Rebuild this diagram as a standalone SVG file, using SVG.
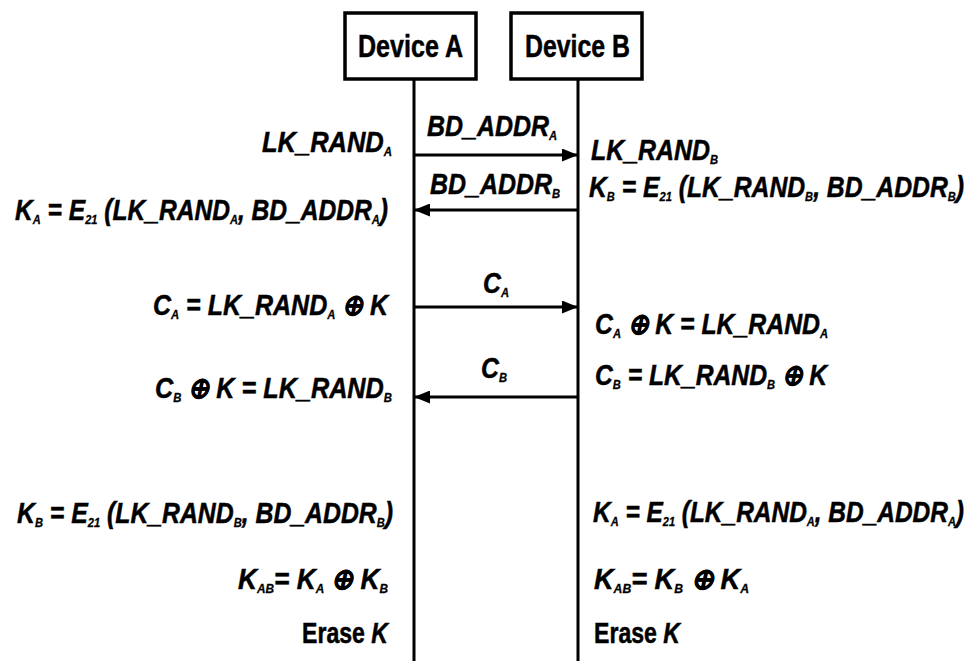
<svg xmlns="http://www.w3.org/2000/svg" width="972" height="661" viewBox="0 0 972 661">
<style>
  .box { fill: #fff; stroke: #000; stroke-width: 3.5; }
  .life { stroke: #000; stroke-width: 3; fill: none; }
  .msg { stroke: #000; stroke-width: 3; fill: none; }
  .t { font-family: "Liberation Sans", Arial, sans-serif; font-weight: bold; font-style: italic; font-size: 29px; fill: #000; stroke: #000; stroke-width: 0.5; }
  .hd { font-family: "Liberation Sans", Arial, sans-serif; font-weight: bold; font-size: 31px; fill: #000; stroke: #000; stroke-width: 0.5; }
  .up { font-style: normal; }
  .s { font-size: 13px; stroke-width: 0.3; }
</style>
<defs>
  <marker id="ah" viewBox="0 0 16 13" refX="15" refY="6.5" markerWidth="16" markerHeight="13" markerUnits="userSpaceOnUse" orient="auto">
    <path d="M0,0 L16,6.5 L0,13 z" fill="#000"/>
  </marker>
</defs>
<rect width="972" height="661" fill="#fff"/>

<g id="device-a">
  <rect class="box" x="345" y="13" width="131" height="66"/>
  <text class="hd" x="358" y="57" textLength="105" lengthAdjust="spacingAndGlyphs">Device A</text>
  <line class="life" x1="414" y1="79" x2="414" y2="661"/>
</g>
<g id="device-b">
  <rect class="box" x="511" y="13" width="131" height="66"/>
  <text class="hd" x="525" y="57" textLength="105" lengthAdjust="spacingAndGlyphs">Device B</text>
  <line class="life" x1="578" y1="79" x2="578" y2="661"/>
</g>

<g id="connectors">
  <line class="msg" x1="414" y1="155" x2="577" y2="155" marker-end="url(#ah)"/>
  <line class="msg" x1="578" y1="210" x2="415" y2="210" marker-end="url(#ah)"/>
  <line class="msg" x1="414" y1="307" x2="577" y2="307" marker-end="url(#ah)"/>
  <line class="msg" x1="578" y1="397" x2="415" y2="397" marker-end="url(#ah)"/>
</g>

<g id="message-labels">
  <text class="t" x="427" y="136" textLength="130" lengthAdjust="spacingAndGlyphs">BD_ADDR<tspan class="s" dy="4">A</tspan></text>
  <text class="t" x="430" y="194" textLength="130" lengthAdjust="spacingAndGlyphs">BD_ADDR<tspan class="s" dy="4">B</tspan></text>
  <text class="t" x="483" y="293" textLength="26" lengthAdjust="spacingAndGlyphs">C<tspan class="s" dy="4">A</tspan></text>
  <text class="t" x="481" y="378" textLength="26" lengthAdjust="spacingAndGlyphs">C<tspan class="s" dy="4">B</tspan></text>
</g>

<g id="device-a-steps">
  <text class="t" x="262" y="152" textLength="130" lengthAdjust="spacingAndGlyphs">LK_RAND<tspan class="s" dy="4">A</tspan></text>
  <text class="t" x="15" y="220" textLength="373" lengthAdjust="spacingAndGlyphs">K<tspan class="s" dy="4">A</tspan><tspan dy="-4"> = E</tspan><tspan class="s" dy="4">21</tspan><tspan dy="-4"> (LK_RAND</tspan><tspan class="s" dy="4">A</tspan><tspan dy="-4">, BD_ADDR</tspan><tspan class="s" dy="4">A</tspan><tspan dy="-4">)</tspan></text>
  <text class="t" x="153" y="315" textLength="235" lengthAdjust="spacingAndGlyphs">C<tspan class="s" dy="4">A</tspan><tspan dy="-4"> = LK_RAND</tspan><tspan class="s" dy="4">A</tspan><tspan dy="-4"> ⊕ K</tspan></text>
  <text class="t" x="155" y="398" textLength="237" lengthAdjust="spacingAndGlyphs">C<tspan class="s" dy="4">B</tspan><tspan dy="-4"> ⊕ K = LK_RAND</tspan><tspan class="s" dy="4">B</tspan></text>
  <text class="t" x="17" y="523" textLength="376" lengthAdjust="spacingAndGlyphs">K<tspan class="s" dy="4">B</tspan><tspan dy="-4"> = E</tspan><tspan class="s" dy="4">21</tspan><tspan dy="-4"> (LK_RAND</tspan><tspan class="s" dy="4">B</tspan><tspan dy="-4">, BD_ADDR</tspan><tspan class="s" dy="4">B</tspan><tspan dy="-4">)</tspan></text>
  <text class="t" x="238" y="589" textLength="150" lengthAdjust="spacingAndGlyphs">K<tspan class="s" dy="4">AB</tspan><tspan dy="-4">= K</tspan><tspan class="s" dy="4">A</tspan><tspan dy="-4"> ⊕ K</tspan><tspan class="s" dy="4">B</tspan></text>
  <text class="t up" x="302" y="643" textLength="86" lengthAdjust="spacingAndGlyphs">Erase <tspan font-style="italic">K</tspan></text>
</g>

<g id="device-b-steps">
  <text class="t" x="591" y="160" textLength="127" lengthAdjust="spacingAndGlyphs">LK_RAND<tspan class="s" dy="4">B</tspan></text>
  <text class="t" x="589" y="197" textLength="375" lengthAdjust="spacingAndGlyphs">K<tspan class="s" dy="4">B</tspan><tspan dy="-4"> = E</tspan><tspan class="s" dy="4">21</tspan><tspan dy="-4"> (LK_RAND</tspan><tspan class="s" dy="4">B</tspan><tspan dy="-4">, BD_ADDR</tspan><tspan class="s" dy="4">B</tspan><tspan dy="-4">)</tspan></text>
  <text class="t" x="595" y="334" textLength="233" lengthAdjust="spacingAndGlyphs">C<tspan class="s" dy="4">A</tspan><tspan dy="-4"> ⊕ K = LK_RAND</tspan><tspan class="s" dy="4">A</tspan></text>
  <text class="t" x="595" y="385" textLength="232" lengthAdjust="spacingAndGlyphs">C<tspan class="s" dy="4">B</tspan><tspan dy="-4"> = LK_RAND</tspan><tspan class="s" dy="4">B</tspan><tspan dy="-4"> ⊕ K</tspan></text>
  <text class="t" x="593" y="522" textLength="371" lengthAdjust="spacingAndGlyphs">K<tspan class="s" dy="4">A</tspan><tspan dy="-4"> = E</tspan><tspan class="s" dy="4">21</tspan><tspan dy="-4"> (LK_RAND</tspan><tspan class="s" dy="4">A</tspan><tspan dy="-4">, BD_ADDR</tspan><tspan class="s" dy="4">A</tspan><tspan dy="-4">)</tspan></text>
  <text class="t" x="594" y="589" textLength="155" lengthAdjust="spacingAndGlyphs">K<tspan class="s" dy="4">AB</tspan><tspan dy="-4">= K</tspan><tspan class="s" dy="4">B</tspan><tspan dy="-4"> ⊕ K</tspan><tspan class="s" dy="4">A</tspan></text>
  <text class="t up" x="594" y="643" textLength="86" lengthAdjust="spacingAndGlyphs">Erase <tspan font-style="italic">K</tspan></text>
</g>
</svg>
